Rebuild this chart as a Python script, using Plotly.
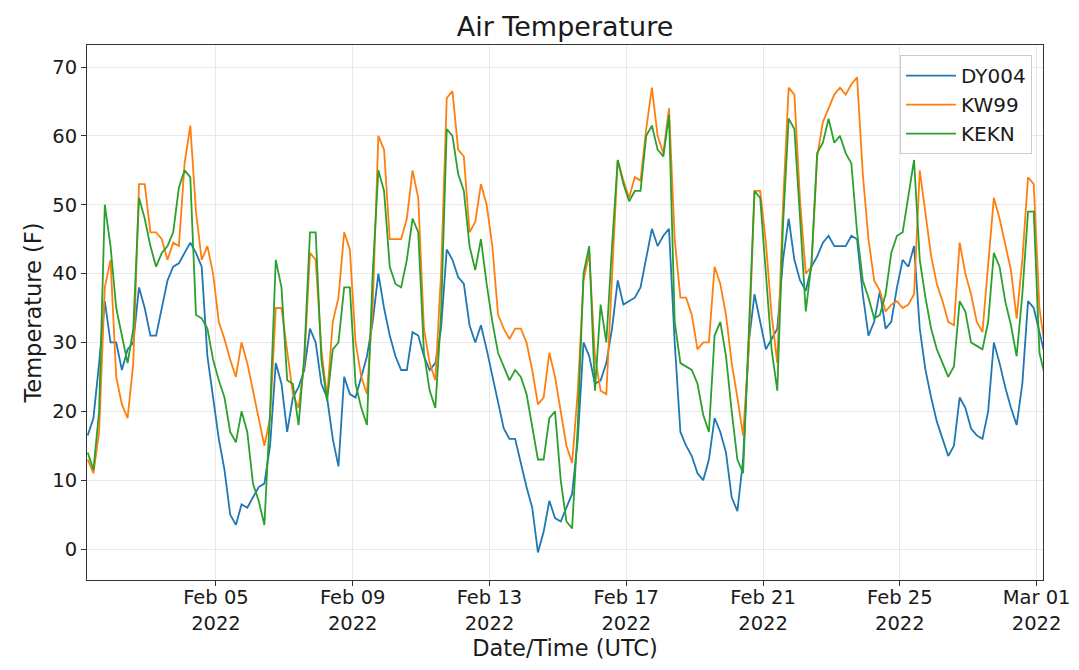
import pandas as pd
import plotly.graph_objects as go

# readings every 4 hours, Feb 1 06:00 UTC -> Mar 1 06:00 UTC
times = pd.date_range("2022-02-01 06:00", periods=169, freq="4h")

dy004 = [
    16.5, 19, 27, 36, 30, 30, 26, 29, 30, 38, 35, 31, 31, 35, 39, 41, 41.5, 43, 44.5, 43,
    41, 28, 22, 16, 11.5, 5, 3.5, 6.5, 6,
    7.5, 9, 9.5, 15, 27, 24, 17, 22, 23.5, 26, 32, 30, 24, 22, 16, 12, 25, 22.5, 22, 25,
    28, 33, 40, 35, 31, 28, 26, 26,
    31.5, 31, 28, 26, 27, 32, 43.5, 42, 39.5, 38.5, 32.5, 30, 32.5, 29, 25, 21, 17.5, 16, 16, 12.5,
    9, 6, -0.5, 2.5, 7, 4.5, 4, 6,
    8, 16, 30, 28, 24, 24.5, 27, 32, 39, 35.5, 36, 36.5, 38, 42.5, 46.5, 44, 45.5, 46.5, 30, 17,
    15, 13.5, 11, 10, 13, 19, 17, 14,
    7.5, 5.5, 13, 30, 37, 33, 29, 30.5, 32, 42, 48, 42, 39, 37.5, 41, 42.5, 44.5, 45.5, 44, 44,
    44, 45.5, 45, 37, 31, 33, 37.5, 32,
    33, 38, 42, 41, 44, 32, 26, 22, 18.5, 16, 13.5, 15, 22, 20.5, 17.5, 16.5, 16, 20, 30, 27,
    23.5, 20.5, 18, 24, 36, 35, 31.5, 28,
]

kw99 = [
    13, 11, 17, 38, 42, 25, 21, 19, 27, 53, 53, 46, 46, 45, 42, 44.5, 44, 56, 61.5, 49,
    42, 44, 40, 33, 30.5, 27.5, 25, 30, 27,
    23, 19.5, 15, 19, 35, 35, 28.5, 22.5, 20.5, 27, 43, 42, 29, 22, 33, 36.5, 46, 43.5, 30, 25,
    22.5, 35, 60, 58, 45, 45, 45, 48,
    55, 51, 32, 27, 24.5, 40, 65.5, 66.5, 58, 57, 46, 47.5, 53, 50, 44, 34, 32, 30.5, 32, 32,
    30, 26, 21, 22, 28.5, 25, 20, 15,
    12.5, 23, 39, 43, 28, 23, 22.5, 40, 56.5, 53.5, 51, 54, 53.5, 61, 67, 60, 57.5, 64, 45, 36.5,
    36.5, 34, 29, 30, 30, 41, 38.5, 34,
    27, 22, 16.5, 29, 52, 52, 44.5, 34, 27, 50, 67, 66, 50.5, 40, 41, 57, 62, 64, 66, 67,
    66, 67.5, 68.5, 54.5, 45, 39, 37.5, 34.5,
    35.5, 36, 35, 35.5, 37, 55, 48.5, 42.5, 38.5, 36, 33, 32.5, 44.5, 40, 37, 33, 31.5, 41.5, 51, 48,
    44, 40.5, 33.5, 42, 54, 53, 35, 29,
]

kekn = [
    14, 11.5, 20, 50, 44, 35, 31, 27, 32, 51, 48, 44, 41, 43, 44, 46, 52.5, 55, 54, 34,
    33.5, 32, 27.5, 24.5, 22, 17, 15.5, 20, 17,
    9.5, 7, 3.5, 20, 42, 38, 24.5, 24, 18, 28, 46, 46, 27.5, 21.5, 29, 30, 38, 38, 24, 20.5,
    18, 40, 55, 52, 41, 38.5, 38, 42,
    48, 46, 28.5, 23, 20.5, 34, 61, 60, 54.5, 52, 44, 40.5, 45, 38.5, 33, 28.5, 26.5, 24.5, 26, 25,
    22.5, 18, 13, 13, 19, 20, 10, 4,
    3, 18, 40, 44, 23, 35.5, 30, 44, 56.5, 53, 50.5, 52, 52, 60, 61.5, 58, 57, 63, 33, 27,
    26.5, 26, 24, 19.5, 17, 31, 33, 28,
    20, 13, 11, 31, 52, 51, 40, 29, 23, 47, 62.5, 61, 48, 34.5, 41.5, 57.5, 59, 62.5, 59, 60,
    57.5, 56, 46, 39, 36.5, 33.5, 34, 37,
    43, 45.5, 46, 51, 56.5, 42, 36.5, 32, 29, 27, 25, 26.5, 36, 34.5, 30, 29.5, 29, 33, 43, 41,
    36, 32.5, 28, 37, 49, 49, 28.5, 25,
]

tick_dates = ["2022-02-05", "2022-02-09", "2022-02-13", "2022-02-17",
              "2022-02-21", "2022-02-25", "2022-03-01"]
tick_text = ["Feb 05<br>2022", "Feb 09<br>2022", "Feb 13<br>2022", "Feb 17<br>2022",
             "Feb 21<br>2022", "Feb 25<br>2022", "Mar 01<br>2022"]

font = "DejaVu Sans"

fig = go.Figure()
fig.add_trace(go.Scatter(x=times, y=dy004, mode="lines", name="DY004",
                         line=dict(color="#1f77b4", width=1.8)))
fig.add_trace(go.Scatter(x=times, y=kw99, mode="lines", name="KW99",
                         line=dict(color="#ff7f0e", width=1.8)))
fig.add_trace(go.Scatter(x=times, y=kekn, mode="lines", name="KEKN",
                         line=dict(color="#2ca02c", width=1.8)))

axis_style = dict(showline=True, linecolor="#333333", linewidth=1, mirror=True,
                  ticks="outside", ticklen=5, tickcolor="#333333",
                  showgrid=True, gridcolor="#e8e8e8", zeroline=False,
                  tickfont=dict(family=font, size=19.5, color="#1a1a1a"))

fig.update_layout(
    width=1079, height=670,
    margin=dict(l=79, r=44, t=37, b=98),
    paper_bgcolor="white", plot_bgcolor="white",
    font=dict(family=font, color="#1a1a1a"),
    title=dict(text="Air Temperature", x=0.5, xref="paper", xanchor="center",
               y=0.9716, yref="container", yanchor="middle",
               font=dict(family=font, size=27, color="#1a1a1a")),
    xaxis=dict(axis_style,
               range=["2022-02-01 05:30", "2022-03-01 04:30"],
               tickvals=tick_dates, ticktext=tick_text, ticklabelstandoff=-5,
               title=dict(text="Date/Time (UTC)", standoff=2,
                          font=dict(family=font, size=22.5, color="#1a1a1a"))),
    yaxis=dict(axis_style,
               range=[-4.5, 73.2], tickvals=[0, 10, 20, 30, 40, 50, 60, 70],
               title=dict(text="Temperature (F)", standoff=4,
                          font=dict(family=font, size=22.5, color="#1a1a1a"))),
    legend=dict(x=0.9885, y=0.981, xanchor="right", yanchor="top", itemwidth=50,
                bgcolor="rgba(255,255,255,0.8)", bordercolor="#cccccc", borderwidth=1,
                font=dict(family=font, size=20, color="#1a1a1a")),
)

fig.write_html("out.html")
